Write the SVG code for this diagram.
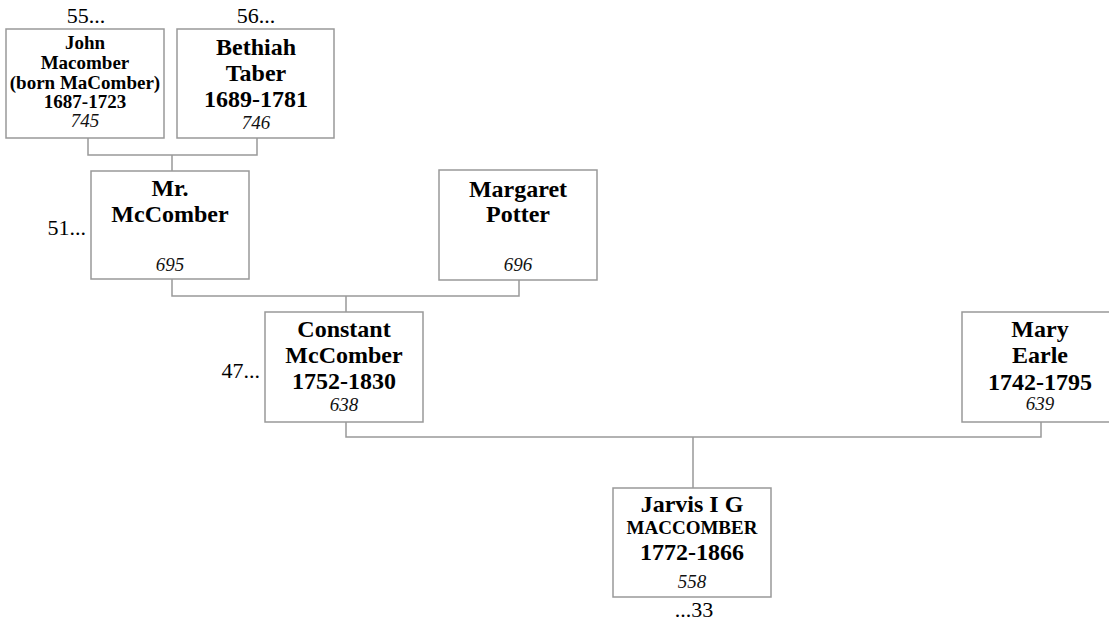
<svg xmlns="http://www.w3.org/2000/svg" width="1109" height="626" viewBox="0 0 1109 626">
<style>
.box{fill:#fff;stroke:#999;stroke-width:1.5}
.nm{font-family:"Liberation Serif","Times New Roman",serif;font-weight:bold;font-size:24px;text-anchor:middle;fill:#000}
.sm{font-family:"Liberation Serif","Times New Roman",serif;font-weight:bold;font-size:19px;text-anchor:middle;fill:#000}
.id{font-family:"Liberation Serif","Times New Roman",serif;font-style:italic;font-size:19px;text-anchor:middle;fill:#111}
.ref{font-family:"Liberation Serif","Times New Roman",serif;font-size:22px;fill:#000}
.con{fill:none;stroke:#999;stroke-width:1.5}
</style>
<rect width="1109" height="626" fill="#fff"/>
<g id="connectors">
<path class="con" d="M88 138V155H257V138M172 155V171"/>
<path class="con" d="M172 279V296H519V279M346 296V312"/>
<path class="con" d="M346 422V437H1041V422M693 437V488"/>
</g>
<g id="n745">
<text class="ref" x="86" y="23" text-anchor="middle">55...</text>
<rect class="box" x="6" y="29" width="158" height="109"/>
<text class="sm" x="85" y="49">John</text>
<text class="sm" x="85" y="69">Macomber</text>
<text class="sm" x="85" y="89">(born MaComber)</text>
<text class="sm" x="85" y="108">1687-1723</text>
<text class="id" x="85" y="127">745</text>
</g>
<g id="n746">
<text class="ref" x="256" y="23" text-anchor="middle">56...</text>
<rect class="box" x="177" y="29" width="157" height="109"/>
<text class="nm" x="256" y="55">Bethiah</text>
<text class="nm" x="256" y="81">Taber</text>
<text class="nm" x="256" y="107">1689-1781</text>
<text class="id" x="256" y="129">746</text>
</g>
<g id="n695">
<text class="ref" x="86" y="235" text-anchor="end">51...</text>
<rect class="box" x="91" y="171" width="158" height="108"/>
<text class="nm" x="170" y="196">Mr.</text>
<text class="nm" x="170" y="222">McComber</text>
<text class="id" x="170" y="271">695</text>
</g>
<g id="n696">
<rect class="box" x="439" y="170" width="158" height="110"/>
<text class="nm" x="518" y="197">Margaret</text>
<text class="nm" x="518" y="222">Potter</text>
<text class="id" x="518" y="271">696</text>
</g>
<g id="n638">
<text class="ref" x="260" y="378" text-anchor="end">47...</text>
<rect class="box" x="265" y="312" width="158" height="110"/>
<text class="nm" x="344" y="337">Constant</text>
<text class="nm" x="344" y="363">McComber</text>
<text class="nm" x="344" y="389">1752-1830</text>
<text class="id" x="344" y="411">638</text>
</g>
<g id="n639">
<rect class="box" x="962" y="312" width="158" height="110"/>
<text class="nm" x="1040" y="337">Mary</text>
<text class="nm" x="1040" y="363">Earle</text>
<text class="nm" x="1040" y="390">1742-1795</text>
<text class="id" x="1040" y="410">639</text>
</g>
<g id="n558">
<rect class="box" x="613" y="488" width="158" height="109"/>
<text class="nm" x="692" y="512">Jarvis I G</text>
<text class="sm" x="692" y="534">MACCOMBER</text>
<text class="nm" x="692" y="560">1772-1866</text>
<text class="id" x="692" y="588">558</text>
<text class="ref" x="694" y="617" text-anchor="middle">...33</text>
</g>
</svg>
